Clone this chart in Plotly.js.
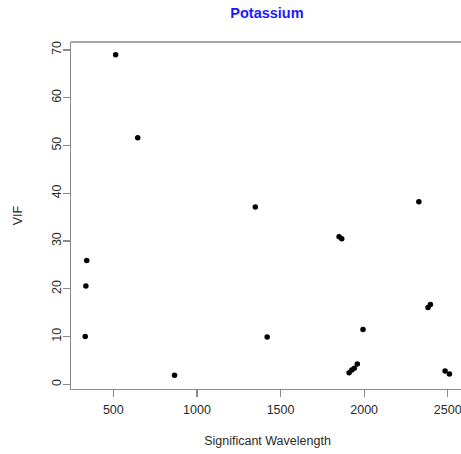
<!DOCTYPE html>
<html>
<head>
<meta charset="utf-8">
<script src="https://cdn.plot.ly/plotly-3.0.1.min.js"></script>
<style>html,body{margin:0;padding:0;overflow:hidden;background:#fff;}#chart{width:470px;height:454px;}</style>
</head>
<body>
<div id="chart"></div>
<script>
// Significant wavelengths (nm) and their VIF values
const wavelength = [341, 336, 332, 866, 514, 646, 1349, 1420, 1850, 1866, 2327, 2382, 2396, 1993, 1910, 1926, 1941, 1959, 2484, 2510];
const vif =        [25.9, 20.6, 10.0, 1.9, 69.0, 51.6, 37.1, 9.9, 30.9, 30.5, 38.2, 16.1, 16.7, 11.5, 2.4, 3.0, 3.35, 4.25, 2.8, 2.15];
const xTicks = [500, 1000, 1500, 2000, 2500];
const yTicks = [0, 10, 20, 30, 40, 50, 60, 70];

const frameColor = '#8a8a8a';

const trace = {
  x: wavelength, y: vif, type: 'scatter', mode: 'markers',
  marker: {color: '#000', size: 5.5}, hoverinfo: 'x+y'
};

const axisCommon = {
  showline: true, mirror: false, linewidth: 1.3, linecolor: frameColor,
  ticks: 'outside', ticklen: 7, tickcolor: frameColor, tickwidth: 1.3,
  showgrid: false, zeroline: false,
  tickfont: {family: 'Liberation Sans, Arial, sans-serif', size: 12.5, color: '#2a2a2a'}
};

const layout = {
  width: 470, height: 454,
  margin: {l: 71, r: 6, t: 42, b: 65},
  paper_bgcolor: '#fff', plot_bgcolor: '#fff',
  showlegend: false,
  title: {text: '<b>Potassium</b>', x: 0.568, xanchor: 'center', y: 0.972, yanchor: 'middle',
          font: {family: 'Liberation Sans, Arial, sans-serif', size: 14.5, color: '#1a1aff'}},
  xaxis: Object.assign({}, axisCommon, {
    range: [247, 2597], tickvals: xTicks, ticktext: xTicks.map(String), ticklabelstandoff: 2,
    title: {text: 'Significant Wavelength', standoff: 20,
            font: {family: 'Liberation Sans, Arial, sans-serif', size: 12.5, color: '#2a2a2a'}}
  }),
  yaxis: Object.assign({}, axisCommon, {
    range: [-0.98, 71.67], tickvals: yTicks, ticktext: yTicks.map(String), tickangle: -90,
    ticklabelstandoff: -3,
    title: {text: 'VIF', standoff: 24,
            font: {family: 'Liberation Sans, Arial, sans-serif', size: 12.5, color: '#2a2a2a'}}
  }),
  shapes: [{type: 'line', xref: 'paper', yref: 'paper', x0: 0, x1: 1.1, y0: 1, y1: 1,
            line: {color: frameColor, width: 1.3}, layer: 'above'}]
};

Plotly.newPlot('chart', [trace], layout, {staticPlot: true, displayModeBar: false});
</script>
</body>
</html>
